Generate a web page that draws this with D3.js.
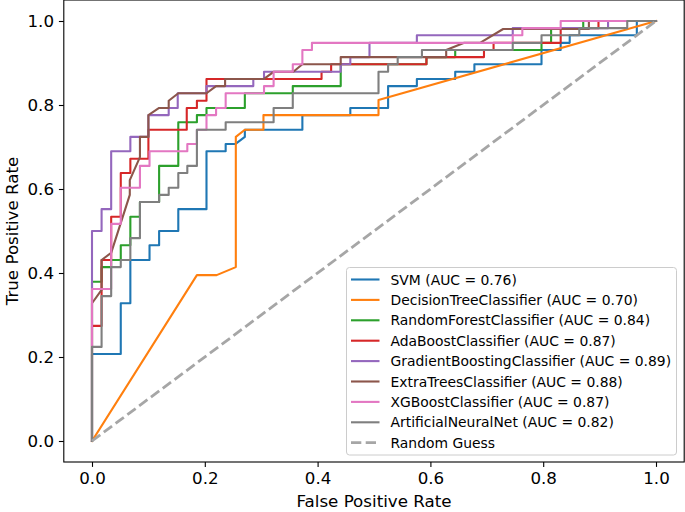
<!DOCTYPE html>
<html><head><meta charset="utf-8">
<script src="https://cdn.jsdelivr.net/npm/d3@7"></script>
<style>body{margin:0;background:#fff} svg{display:block;font-family:"DejaVu Sans",sans-serif}</style>
</head><body><svg id="c" width="685" height="512"></svg>
<script>
const modelNames = ["SVM","DecisionTreeClassifier","RandomForestClassifier","AdaBoostClassifier","GradientBoostingClassifier","ExtraTreesClassifier","XGBoostClassifier","ArtificialNeuralNet"];
const aucValues = [0.76,0.70,0.84,0.87,0.89,0.88,0.87,0.82];
const lineColors = ["#1f77b4","#ff7f0e","#2ca02c","#d62728","#9467bd","#8c564b","#e377c2","#7f7f7f"];

const svmFpr = [0,0,0.051,0.051,0.068,0.068,0.102,0.102,0.119,0.119,0.153,0.153,0.203,0.203,0.237,0.237,0.254,0.271,0.271,0.373,0.373,0.458,0.458,0.525,0.525,0.576,0.576,0.644,0.644,0.678,0.678,0.797,0.797,0.831,0.831,0.847,0.847,0.966,0.966,1];
const svmTpr = [0,0.207,0.207,0.328,0.328,0.431,0.431,0.466,0.466,0.5,0.5,0.552,0.552,0.69,0.69,0.707,0.707,0.724,0.741,0.741,0.776,0.776,0.793,0.793,0.845,0.845,0.862,0.862,0.879,0.879,0.897,0.897,0.931,0.931,0.948,0.948,0.966,0.966,1,1];

const dtFpr = [0,0.186,0.221,0.255,0.255,0.271,0.304,0.304,0.508,0.508,1];
const dtTpr = [0,0.395,0.395,0.414,0.724,0.741,0.741,0.776,0.776,0.812,1];

const rfFpr = [0,0,0.017,0.017,0.034,0.034,0.051,0.051,0.068,0.068,0.085,0.085,0.119,0.119,0.153,0.153,0.186,0.186,0.203,0.203,0.271,0.271,0.356,0.356,0.441,0.441,0.593,0.593,0.644,0.644,0.797,0.797,0.814,0.814,0.871,0.871,1];
const rfTpr = [0,0.379,0.379,0.414,0.414,0.431,0.431,0.466,0.466,0.534,0.534,0.569,0.569,0.655,0.655,0.759,0.759,0.776,0.776,0.793,0.793,0.828,0.828,0.845,0.845,0.897,0.897,0.914,0.914,0.931,0.931,0.948,0.948,0.983,0.983,1,1];

const adaFpr = [0,0,0.017,0.017,0.034,0.034,0.051,0.051,0.068,0.068,0.1,0.1,0.168,0.168,0.186,0.186,0.203,0.203,0.407,0.407,0.424,0.424,0.593,0.593,0.695,0.695,0.712,0.712,0.831,0.831,0.898,0.898,1];
const adaTpr = [0,0.274,0.274,0.431,0.431,0.534,0.534,0.638,0.638,0.672,0.672,0.741,0.741,0.793,0.793,0.81,0.81,0.862,0.862,0.879,0.879,0.897,0.897,0.914,0.914,0.931,0.931,0.948,0.948,0.983,0.983,1,1];

const gbFpr = [0,0,0.017,0.017,0.034,0.034,0.068,0.068,0.1,0.1,0.136,0.136,0.152,0.152,0.203,0.203,0.286,0.286,0.305,0.305,0.441,0.441,0.458,0.458,0.492,0.492,0.576,0.576,0.746,0.746,0.915,0.915,1];
const gbTpr = [0,0.5,0.5,0.552,0.552,0.69,0.69,0.724,0.724,0.776,0.776,0.793,0.793,0.828,0.828,0.845,0.845,0.862,0.862,0.879,0.879,0.897,0.897,0.914,0.914,0.948,0.948,0.966,0.966,0.983,0.983,1,1];

const etFpr = [0,0,0.017,0.017,0.034,0.067,0.067,0.085,0.085,0.1,0.1,0.119,0.136,0.136,0.153,0.203,0.22,0.236,0.236,0.305,0.322,0.357,0.373,0.441,0.441,0.628,0.628,0.66,0.688,0.729,0.881,0.881,1];
const etTpr = [0,0.328,0.36,0.431,0.448,0.586,0.621,0.676,0.724,0.724,0.776,0.793,0.793,0.81,0.828,0.828,0.845,0.845,0.862,0.862,0.879,0.879,0.897,0.897,0.914,0.914,0.931,0.948,0.948,0.981,0.981,1,1];

const xgbFpr = [0,0,0.034,0.034,0.051,0.051,0.085,0.085,0.102,0.102,0.169,0.169,0.186,0.186,0.203,0.203,0.22,0.22,0.237,0.237,0.305,0.305,0.322,0.322,0.356,0.356,0.373,0.373,0.39,0.39,0.746,0.746,0.763,0.763,0.831,0.831,1];
const xgbTpr = [0,0.362,0.362,0.517,0.517,0.603,0.603,0.655,0.655,0.69,0.69,0.707,0.707,0.741,0.741,0.776,0.776,0.793,0.793,0.828,0.828,0.845,0.845,0.879,0.879,0.897,0.897,0.931,0.931,0.948,0.948,0.966,0.966,0.983,0.983,1,1];

const annFpr = [0,0,0.017,0.017,0.034,0.034,0.051,0.051,0.068,0.068,0.085,0.085,0.119,0.119,0.136,0.136,0.153,0.153,0.169,0.169,0.186,0.186,0.237,0.237,0.322,0.322,0.356,0.356,0.508,0.508,0.525,0.525,0.542,0.542,0.585,0.585,0.746,0.746,0.797,0.797,0.864,0.864,0.949,0.949,1];
const annTpr = [0,0.224,0.224,0.345,0.345,0.414,0.414,0.431,0.431,0.483,0.483,0.569,0.569,0.586,0.586,0.603,0.603,0.638,0.638,0.655,0.655,0.741,0.741,0.759,0.759,0.793,0.793,0.828,0.828,0.879,0.879,0.897,0.897,0.914,0.914,0.931,0.931,0.948,0.948,0.966,0.966,0.983,0.983,1,1];

const guessFpr = [0,1];
const guessTpr = [0,1];

const tickValues = [0,0.2,0.4,0.6,0.8,1.0];
const tickLabels = ["0.0","0.2","0.4","0.6","0.8","1.0"];

const allFpr = [svmFpr,dtFpr,rfFpr,adaFpr,gbFpr,etFpr,xgbFpr,annFpr];
const allTpr = [svmTpr,dtTpr,rfTpr,adaTpr,gbTpr,etTpr,xgbTpr,annTpr];

const svg = d3.select("#c");
const x = d3.scaleLinear().domain([-0.05,1.05]).range([63.8,684.2]);
const y = d3.scaleLinear().domain([-0.05,1.05]).range([462,0]);

const line = d3.line().x(d=>x(d[0])).y(d=>y(d[1]));
const dash = "10.3,4.4";
const guessColor = "#a6a6a6";

const plot = svg.append("g");
allFpr.forEach((f,i)=>{
  const pts = f.map((v,j)=>[v, allTpr[i][j]]);
  plot.append("path").attr("d", line(pts)).attr("fill","none")
    .attr("stroke", lineColors[i]).attr("stroke-width",2.1)
    .attr("stroke-linejoin","round").attr("stroke-linecap","square");
});
plot.append("path").attr("d", line(guessFpr.map((v,j)=>[v,guessTpr[j]])))
  .attr("fill","none").attr("stroke",guessColor).attr("stroke-width",2.8)
  .attr("stroke-dasharray",dash);

// axes
const fs = 16.7;
const xAxis = d3.axisBottom(x).tickValues(tickValues).tickFormat((d,i)=>tickLabels[i]).tickSize(4.9).tickPadding(4.9);
const gx = svg.append("g").attr("transform","translate(0,462)").call(xAxis);
const yAxis = d3.axisLeft(y).tickValues(tickValues).tickFormat((d,i)=>tickLabels[i]).tickSize(4.9).tickPadding(4.9);
const gy = svg.append("g").attr("transform","translate(63.8,0)").call(yAxis);
[gx,gy].forEach(g=>{
  g.select(".domain").remove();
  g.selectAll("line").attr("stroke","#000").attr("stroke-width",1.1);
  g.selectAll("text").attr("fill","#000").style("font-size",fs+"px").style("font-family","DejaVu Sans");
});

// frame
svg.append("rect").attr("x",63.8).attr("y",0).attr("width",684.2-63.8).attr("height",462)
  .attr("fill","none").attr("stroke","#000").attr("stroke-width",1.1);

svg.append("text").attr("x",(63.8+684.2)/2).attr("y",507).attr("text-anchor","middle")
  .style("font-size",fs+"px").text("False Positive Rate");
svg.append("text").attr("transform","translate(18,231) rotate(-90)").attr("text-anchor","middle")
  .style("font-size",fs+"px").text("True Positive Rate");

// legend
const lg = svg.append("g");
lg.append("rect").attr("x",346.5).attr("y",267.5).attr("width",330).attr("height",187.5).attr("rx",3)
  .attr("fill","#fff").attr("fill-opacity",0.8).attr("stroke","#cccccc").attr("stroke-width",1);
const legendLabels = modelNames.map((n,i)=>`${n} (AUC = ${aucValues[i].toFixed(2)})`).concat(["Random Guess"]);
const legendColors = lineColors.concat([guessColor]);
legendLabels.forEach((t,i)=>{
  const cy = 279.5 + i*20.4;
  const l = lg.append("line").attr("x1",351).attr("x2",379.5).attr("y1",cy).attr("y2",cy)
    .attr("stroke",legendColors[i]).attr("stroke-width", i===8 ? 2.8 : 2.1);
  if (i===8) l.attr("stroke-dasharray",dash);
  lg.append("text").attr("x",390.5).attr("y",cy+5).style("font-size","13.9px").attr("fill","#000").text(t);
});
</script></body></html>
